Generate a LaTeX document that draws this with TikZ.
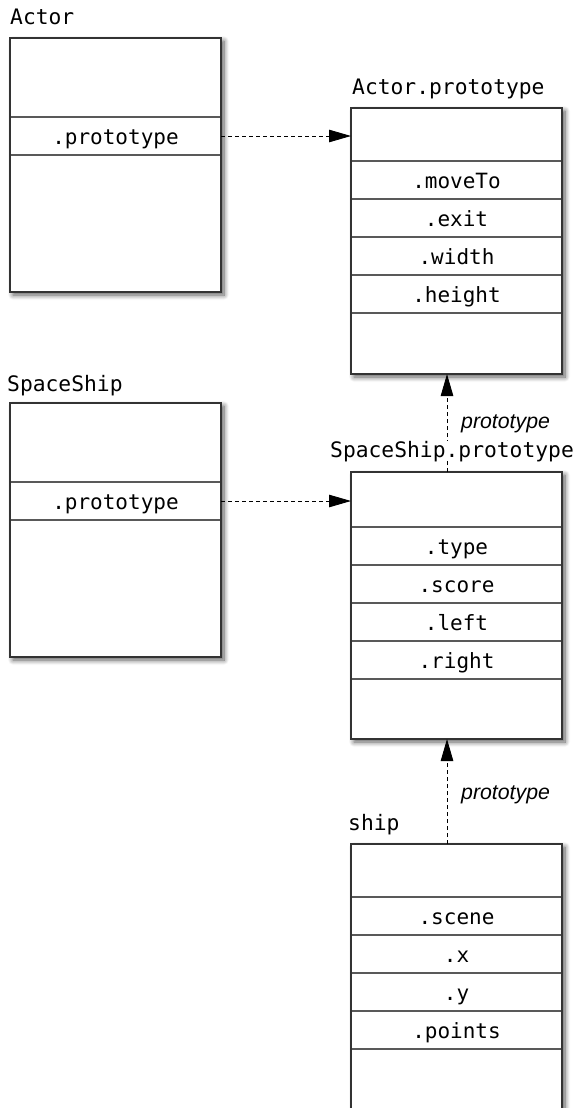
\documentclass[tikz,border=0pt]{standalone}
\usepackage{fontspec}
\setmonofont{DejaVu Sans Mono}
\setsansfont{Liberation Sans}
\usetikzlibrary{arrows.meta,shadows.blur}
\begin{document}
\begin{tikzpicture}[x=1pt,y=-1pt,
 objbox/.style={draw=none, fill=white, minimum width=211pt, inner sep=0pt, outer sep=0pt, anchor=north west,
   blur shadow={shadow xshift=3pt, shadow yshift=-3pt, shadow blur radius=5pt, shadow blur steps=8, shadow opacity=65}},
 frame/.style={draw=black!80, line width=1.2pt},
 slot/.style={draw=black!65, line width=1.1pt, minimum width=211pt, minimum height=38pt, inner sep=0pt, outer sep=0pt,
   font=\ttfamily\fontsize{21}{24}\selectfont, text height=16pt, text depth=0pt},
 title/.style={anchor=base west, inner sep=0pt, font=\ttfamily\fontsize{21.3}{25}\selectfont},
 link/.style={dash pattern=on 4pt off 3pt, line width=0.9pt, draw=black, -{Triangle[length=22pt,width=12.5pt]}},
 linklabel/.style={anchor=base west, inner sep=0pt, font=\sffamily\itshape\fontsize{21.3}{24}\selectfont}]
\clip (0,0) rectangle (577,1108);

% Actor
\node[objbox, minimum height=254pt] (actor) at (10,38) {};
\node[slot] (actorp) at (115.5,136) {.prototype};
\draw[frame] (actor.north west) rectangle (actor.south east);
\node[title] (actorlbl) at (10,25) {Actor};

% Actor.prototype
\node[objbox, minimum height=266pt] (aproto) at (351,108) {};
\node[slot] (amove) at (456.5,180) {.moveTo};
\node[slot] (aexit) at (456.5,218) {.exit};
\node[slot] (awidth) at (456.5,256) {.width};
\node[slot] (aheight) at (456.5,294) {.height};
\draw[frame] (aproto.north west) rectangle (aproto.south east);
\node[title] (aprotolbl) at (352,94) {Actor.prototype};

% SpaceShip
\node[objbox, minimum height=254pt] (ss) at (10,403) {};
\node[slot] (ssp) at (115.5,501) {.prototype};
\draw[frame] (ss.north west) rectangle (ss.south east);
\node[title] (sslbl) at (7,391) {SpaceShip};

% SpaceShip.prototype
\node[objbox, minimum height=267pt] (sproto) at (351,472) {};
\node[slot] (stype) at (456.5,546) {.type};
\node[slot] (sscore) at (456.5,584) {.score};
\node[slot] (sleft) at (456.5,622) {.left};
\node[slot] (sright) at (456.5,660) {.right};
\draw[frame] (sproto.north west) rectangle (sproto.south east);

% ship
\node[objbox, minimum height=300pt] (ship) at (351,844) {};
\node[slot] (shscene) at (456.5,916) {.scene};
\node[slot] (shx) at (456.5,954) {.x};
\node[slot] (shy) at (456.5,992) {.y};
\node[slot] (shpoints) at (456.5,1030) {.points};
\draw[frame] (ship.north west) rectangle (ship.south east);
\node[title] (shiplbl) at (348,830) {ship};

% links
\draw[link] (actorp.east) -- (actorp.east -| aproto.west);
\draw[link] (ssp.east) -- (ssp.east -| sproto.west);
\draw[link] ([xshift=-9.5pt]sproto.north) -- ([xshift=-9.5pt]aproto.south);
\draw[link] ([xshift=-9.5pt]ship.north) -- ([xshift=-9.5pt]sproto.south);

\node[title, fill=white] (sprotolbl) at (330,457) {SpaceShip.prototype};
\node[linklabel] (l1) at (461,428) {prototype};
\node[linklabel] (l2) at (461,799) {prototype};
\end{tikzpicture}
\end{document}
